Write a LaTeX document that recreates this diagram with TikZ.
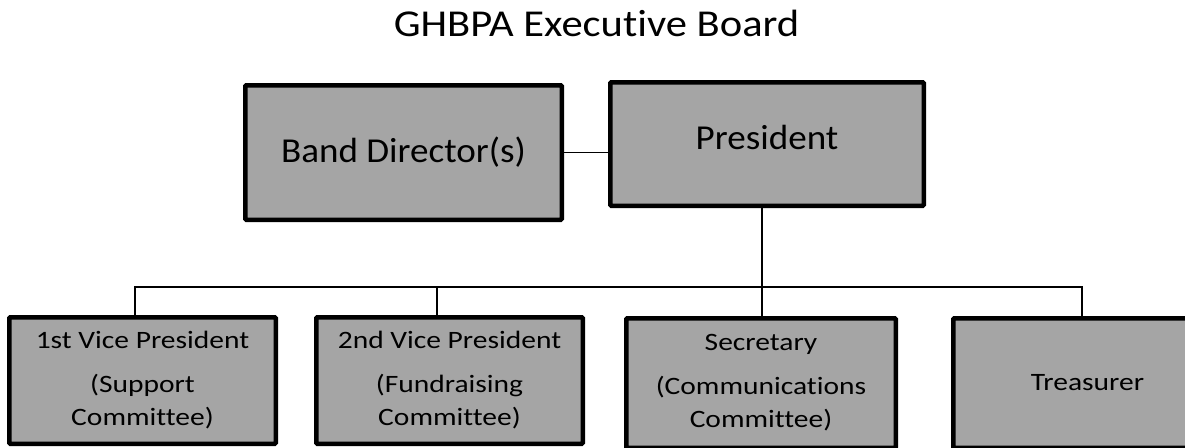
\documentclass[tikz,border=0pt]{standalone}
\usepackage{fontspec}
\setmainfont{Carlito}
\newfontfamily\titlefont{Carlito}[FakeStretch=1.12, Ligatures=NoCommon]
\newfontfamily\headfont{Carlito}[FakeStretch=1.06, Ligatures=NoCommon]
\newfontfamily\rankfont{Carlito}[FakeStretch=1.18, Ligatures=NoCommon]
\tikzset{
  officebox/.style={draw=black, fill=boxgray, line width=4.5pt, rounded corners=1pt, align=center, inner sep=0pt},
  headbox/.style={officebox, font=\headfont\fontsize{35}{40}\selectfont},
  rankbox/.style={officebox, font=\rankfont\fontsize{25}{33}\selectfont},
  tie/.style={draw=black, line width=1.6pt}
}
\definecolor{boxgray}{HTML}{A5A5A5}
\begin{document}
\begin{tikzpicture}[x=1pt, y=-1pt]
    \useasboundingbox (0,0) rectangle (1185,447);

    \node[anchor=base, font=\titlefont\fontsize{38}{44}\selectfont] (title) at (596.5,36) {GHBPA Executive Board};

    \node[headbox, minimum width=316.5pt, minimum height=134.5pt] (director) at (403.5,152.5) {Band Director(s)};
    \node[headbox, minimum width=313.5pt, minimum height=123.5pt, text depth=14pt] (president) at (767,144) {President};

    \node[rankbox, minimum width=266.5pt, minimum height=126.5pt] (vp1) at (142.5,380.5) {1st Vice President\\[11pt](Support\\Committee)};
    \node[rankbox, minimum width=266.5pt, minimum height=126.5pt] (vp2) at (449.5,380.5) {2nd Vice President\\[11pt](Fundraising\\Committee)};
    \node[rankbox, minimum width=269.5pt, minimum height=129.5pt] (secretary) at (761,383) {Secretary\\[11pt](Communications\\Committee)};
    \node[rankbox, minimum width=268.5pt, minimum height=129.5pt] (treasurer) at (1087.5,383) {Treasurer};

    \coordinate (bar) at (762,287);

    \draw[tie] (director.east) -- (director.east -| president.west);
    \draw[tie] (president.south -| bar) -- (secretary.north -| bar);
    \draw[tie] ([xshift=-7.5pt]vp1.north) |- (bar) -| ([xshift=-5.5pt]treasurer.north);
    \draw[tie] ([xshift=-12.5pt]vp2.north) -- ([xshift=-12.5pt]vp2.north |- bar);
\end{tikzpicture}
\end{document}
